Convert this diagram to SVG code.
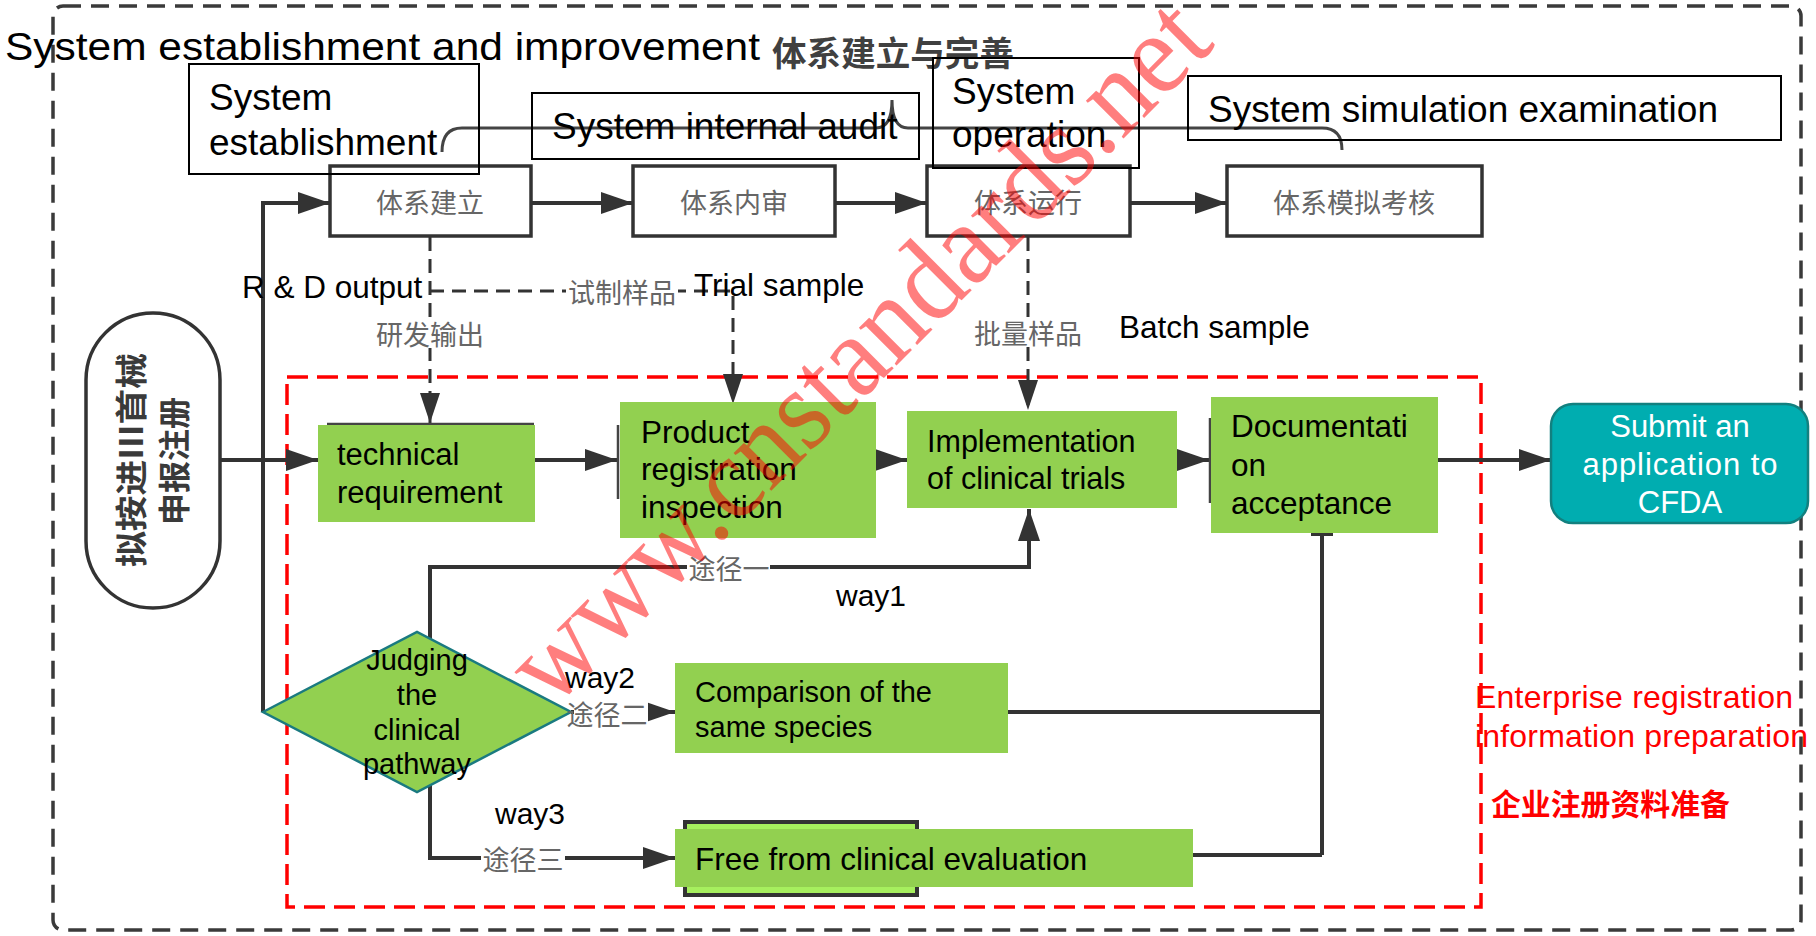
<svg xmlns="http://www.w3.org/2000/svg" width="1816" height="936" viewBox="0 0 1816 936">
<defs>
<style>
.en{font-family:"Liberation Sans",Arial,sans-serif;fill:#000}
.cn{font-family:"Noto Sans CJK SC","Noto Sans CJK TC",sans-serif;fill:#666;font-size:27px}
.box{fill:#fff;stroke:#333;stroke-width:3.5}
.ann{fill:none;stroke:#000;stroke-width:2}
.green{fill:#92d050}
.conn{fill:none;stroke:#333;stroke-width:4}
.dash{fill:none;stroke:#333;stroke-width:3;stroke-dasharray:14 8}
.bg{fill:#fff}
.ghost{fill:none;stroke:#444;stroke-width:2.5}
</style>
<marker id="arr" markerUnits="userSpaceOnUse" markerWidth="34" markerHeight="24" refX="32" refY="12" orient="auto"><path d="M0,1 L32,12 L0,23 Z" fill="#333"/></marker>
<marker id="arrd" markerUnits="userSpaceOnUse" markerWidth="32" markerHeight="22" refX="30" refY="11" orient="auto"><path d="M0,1 L30,11 L0,21 Z" fill="#333"/></marker>
</defs>
<rect x="0" y="0" width="1816" height="936" fill="#fff"/>
<rect id="outer-frame" x="53" y="6" width="1748" height="924" rx="10" fill="none" stroke="#3a3a3a" stroke-width="3.5" stroke-dasharray="18 10"/>
<rect id="red-frame" x="287" y="377" width="1194" height="530" fill="none" stroke="#f00" stroke-width="3.5" stroke-dasharray="21 9"/>

<g id="title">
<text class="en" x="5" y="60" font-size="39" textLength="755" lengthAdjust="spacingAndGlyphs">System establishment and improvement</text>
<text x="772" y="51" dominant-baseline="central" font-family="Noto Sans CJK SC,sans-serif" font-weight="bold" font-size="34" fill="#404040" textLength="242" lengthAdjust="spacingAndGlyphs">体系建立与完善</text>
</g>

<g id="connectors">
<path class="conn" d="M263,712 V203 H330" marker-end="url(#arr)"/>
<path class="conn" d="M531,203 H633" marker-end="url(#arr)"/>
<path class="conn" d="M835,203 H927" marker-end="url(#arr)"/>
<path class="conn" d="M1130,203 H1227" marker-end="url(#arr)"/>
<path class="conn" d="M220,460 H318" marker-end="url(#arr)"/>
<path class="conn" d="M535,460 H617" marker-end="url(#arr)"/>
<path class="conn" d="M876,460 H907" marker-end="url(#arr)"/>
<path class="conn" d="M1177,460 H1209" marker-end="url(#arr)"/>
<path class="conn" d="M1438,460 H1551" marker-end="url(#arr)"/>
<path class="dash" d="M430,237 V423" marker-end="url(#arrd)"/>
<path class="dash" d="M430,291 H733 V404" marker-end="url(#arrd)"/>
<path class="dash" d="M1028,237 V410" marker-end="url(#arrd)"/>
<path class="conn" d="M430,712 V567 H1029 V509" marker-end="url(#arr)"/>
<path class="conn" d="M571,712 H675" marker-end="url(#arr)"/>
<path class="conn" d="M430,712 V858 H675" marker-end="url(#arr)"/>
<path class="conn" d="M1322,534 V855 M1008,712 H1322 M1193,855 H1322 M1311,534 H1333"/>
<path class="ghost" d="M618,425 V499 M1210,418 V503 M327,424 H534"/>
<rect class="bg" x="374" y="318" width="112" height="30"/>
<text class="cn" x="430" y="333" text-anchor="middle" dominant-baseline="central">研发输出</text>
<rect class="bg" x="566" y="277" width="112" height="30"/>
<text class="cn" x="622" y="291" text-anchor="middle" dominant-baseline="central">试制样品</text>
<rect class="bg" x="972" y="317" width="112" height="30"/>
<text class="cn" x="1028" y="332" text-anchor="middle" dominant-baseline="central">批量样品</text>
<rect class="bg" x="687" y="553" width="83" height="28"/>
<text class="cn" x="729" y="567" text-anchor="middle" dominant-baseline="central">途径一</text>
<rect class="bg" x="481" y="843" width="84" height="30"/>
<text class="cn" x="523" y="858" text-anchor="middle" dominant-baseline="central">途径三</text>
</g>

<g id="n-start">
<rect x="86" y="313" width="134" height="295" rx="67" fill="#fff" stroke="#333" stroke-width="3.5"/>
<text transform="translate(129,460) rotate(-90)" text-anchor="middle" dominant-baseline="central" font-family="Noto Sans CJK SC,sans-serif" font-weight="bold" font-size="32" fill="#3a3a3a" textLength="214" lengthAdjust="spacingAndGlyphs">拟按进III首械</text>
<text transform="translate(172,461) rotate(-90)" text-anchor="middle" dominant-baseline="central" font-family="Noto Sans CJK SC,sans-serif" font-weight="bold" font-size="32" fill="#3a3a3a">申报注册</text>
</g>

<g id="n-b1"><rect class="box" x="330" y="166" width="201" height="70"/><text class="cn" x="430" y="201" text-anchor="middle" dominant-baseline="central">体系建立</text></g>
<g id="n-b2"><rect class="box" x="633" y="166" width="202" height="70"/><text class="cn" x="734" y="201" text-anchor="middle" dominant-baseline="central">体系内审</text></g>
<g id="n-b3"><rect class="box" x="927" y="166" width="203" height="70"/><text class="cn" x="1028" y="201" text-anchor="middle" dominant-baseline="central">体系运行</text></g>
<g id="n-b4"><rect class="box" x="1227" y="166" width="255" height="70"/><text class="cn" x="1354" y="201" text-anchor="middle" dominant-baseline="central">体系模拟考核</text></g>

<g id="n-tech"><rect class="green" x="318" y="425" width="217" height="97"/>
<text class="en" font-size="31" x="337" y="465">technical</text><text class="en" font-size="31" x="337" y="503">requirement</text></g>
<g id="n-product"><rect class="green" x="620" y="402" width="256" height="136"/>
<text class="en" font-size="31.5" x="641" y="443">Product</text><text class="en" font-size="31.5" x="641" y="480">registration</text><text class="en" font-size="31.5" x="641" y="518">inspection</text></g>
<g id="n-impl"><rect class="green" x="907" y="411" width="270" height="97"/>
<text class="en" font-size="30.5" x="927" y="452">Implementation</text><text class="en" font-size="30.5" x="927" y="489">of clinical trials</text></g>
<g id="n-doc"><rect class="green" x="1211" y="397" width="227" height="136"/>
<text class="en" font-size="31.5" x="1231" y="437">Documentati</text><text class="en" font-size="31.5" x="1231" y="476">on</text><text class="en" font-size="31.5" x="1231" y="514">acceptance</text></g>
<g id="n-compare"><rect class="green" x="675" y="663" width="333" height="90"/>
<text class="en" font-size="29" x="695" y="702">Comparison of the</text><text class="en" font-size="29" x="695" y="737">same species</text></g>
<g id="n-free"><rect x="685" y="822" width="232" height="73" fill="#a6ef5e" stroke="#333" stroke-width="4"/><rect class="green" x="675" y="829" width="518" height="58"/>
<text class="en" font-size="31.5" x="695" y="870">Free from clinical evaluation</text></g>
<g id="n-judge"><polygon points="263,712 417,632 571,712 417,792" fill="#92d050" stroke="#1a7a80" stroke-width="2.5"/>
<text class="en" font-size="29" text-anchor="middle" x="417" y="670">Judging</text><text class="en" font-size="29" text-anchor="middle" x="417" y="705">the</text><text class="en" font-size="29" text-anchor="middle" x="417" y="740">clinical</text><text class="en" font-size="29" text-anchor="middle" x="417" y="774">pathway</text></g>
<g id="lbl-way2"><rect class="bg" x="574" y="698" width="74" height="30"/><text class="cn" x="607" y="713" text-anchor="middle" dominant-baseline="central">途径二</text></g>
<g id="n-submit"><rect x="1551" y="404" width="257" height="119" rx="22" fill="#00adb0" stroke="#12807f" stroke-width="2.5"/>
<text font-family="Liberation Sans,Arial,sans-serif" font-size="31" fill="#fff" text-anchor="middle" x="1680" y="437">Submit an</text>
<text font-family="Liberation Sans,Arial,sans-serif" font-size="31" fill="#fff" text-anchor="middle" x="1680" y="475" textLength="195" lengthAdjust="spacing">application to</text>
<text font-family="Liberation Sans,Arial,sans-serif" font-size="31" fill="#fff" text-anchor="middle" x="1680" y="513">CFDA</text></g>

<g id="labels">
<text class="en" font-size="31.5" x="242" y="298">R &amp; D output</text>
<text class="en" font-size="31.5" x="694" y="296">Trial sample</text>
<text class="en" font-size="31.5" x="1119" y="338">Batch sample</text>
<text class="en" font-size="30" x="836" y="606">way1</text>
<text class="en" font-size="30" x="565" y="688">way2</text>
<text class="en" font-size="30" x="495" y="824">way3</text>
<text font-family="Liberation Sans,Arial,sans-serif" font-size="32" fill="#f00" x="1475" y="708" textLength="318" lengthAdjust="spacing">Enterprise registration</text>
<text font-family="Liberation Sans,Arial,sans-serif" font-size="32" fill="#f00" x="1475" y="747" textLength="333" lengthAdjust="spacing">information preparation</text>
<text font-family="Noto Sans CJK SC,sans-serif" font-weight="bold" font-size="30" fill="#f00" x="1491" y="802" dominant-baseline="central" textLength="239" lengthAdjust="spacingAndGlyphs">企业注册资料准备</text>
</g>

<g id="annotations">
<path d="M442,152 Q442,128 462,128 L876,128 Q892,128 892,100 Q892,128 908,128 L1322,128 Q1342,128 1342,150" fill="none" stroke="#444" stroke-width="3"/>
<rect class="ann" x="189" y="64" width="290" height="110"/>
<text class="en" font-size="37" x="209" y="110">System</text><text class="en" font-size="37" x="209" y="155">establishment</text>
<rect class="ann" x="532" y="93" width="387" height="66"/>
<text class="en" font-size="37" x="552" y="139">System internal audit</text>
<rect class="ann" x="933" y="58" width="206" height="110"/>
<text class="en" font-size="37" x="952" y="104">System</text><text class="en" font-size="37" x="952" y="147">operation</text>
<rect class="ann" x="1188" y="76" width="593" height="64"/>
<text class="en" font-size="37" x="1208" y="122">System simulation examination</text>
</g>

<text id="watermark" transform="translate(552,710) rotate(-45)" font-family="Liberation Serif,serif" font-size="116" fill="#f00" opacity="0.5" textLength="940" lengthAdjust="spacingAndGlyphs">www.cnstandards.net</text>
</svg>
